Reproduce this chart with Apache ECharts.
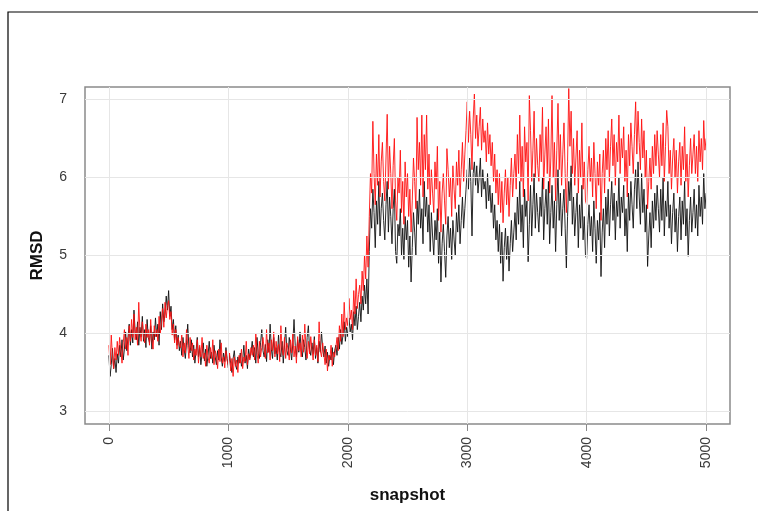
<!DOCTYPE html>
<html>
<head>
<meta charset="utf-8">
<script src="https://cdn.jsdelivr.net/npm/echarts@6/dist/echarts.min.js"></script>
<style>
  html, body { margin: 0; padding: 0; background: #fff; }
  #chart { width: 758px; height: 511px; }
</style>
</head>
<body>
<div id="chart"></div>
<script>
// Snapshot spacing between stored RMSD samples
const snapshotStep = 10;

// RMSD trace drawn in black (one value every 10 snapshots, 0..5000)
const rmsdBlack = [
  3.72,3.45,3.60,3.81,3.55,3.68,3.50,3.74,3.62,3.85,
  3.70,3.92,3.66,3.80,4.02,3.78,3.95,4.12,3.85,4.05,
  3.88,4.30,4.02,3.92,4.15,3.85,4.08,3.96,4.22,3.90,
  4.05,3.82,4.18,3.95,3.88,4.10,3.80,4.02,3.92,4.20,
  3.96,4.12,3.85,4.28,4.05,4.38,4.15,4.25,4.48,4.30,
  4.55,4.22,4.35,4.05,4.18,3.92,4.10,3.85,3.98,3.78,
  3.90,3.72,3.95,3.80,3.68,3.88,4.12,3.82,3.75,3.92,
  3.70,3.85,3.62,3.78,3.95,3.70,3.82,3.60,3.74,3.88,
  3.65,3.80,3.58,3.72,3.90,3.68,3.76,3.62,3.85,3.70,
  3.60,3.78,3.66,3.92,3.70,3.58,3.75,3.64,3.82,3.68,
  3.56,3.72,3.62,3.50,3.68,3.78,3.60,3.54,3.70,3.62,
  3.75,3.58,3.66,3.85,3.62,3.72,3.55,3.80,3.68,3.76,
  3.90,3.70,3.82,3.62,3.95,3.74,3.68,3.88,4.05,3.78,
  3.70,3.86,3.64,3.92,3.76,4.12,3.80,3.68,3.95,3.74,
  3.82,3.66,3.98,3.76,3.70,3.90,3.62,3.84,4.08,3.78,
  3.72,3.95,3.80,3.66,3.88,4.18,3.85,3.70,3.92,3.76,
  4.02,3.78,3.70,3.92,3.82,3.66,3.95,4.10,3.80,3.72,
  3.88,3.74,3.96,3.68,3.82,3.62,3.90,3.76,4.02,3.80,
  3.70,3.84,3.62,3.76,3.58,3.72,3.66,3.82,3.60,3.78,
  3.85,3.72,3.95,3.80,4.05,3.86,3.98,4.15,3.90,4.08,
  3.96,4.20,4.02,4.12,3.92,4.28,4.10,4.35,4.05,4.22,
  4.40,4.15,4.48,4.30,4.62,4.38,4.70,4.25,5.05,5.60,
  5.35,5.85,5.55,5.10,5.70,5.40,5.95,5.25,5.60,5.80,
  5.45,5.20,5.65,5.95,5.30,5.75,5.50,5.15,5.60,5.85,
  5.05,4.90,5.40,5.25,5.60,5.00,5.35,4.95,5.50,5.20,
  5.45,4.85,5.25,4.66,5.10,5.55,5.30,5.00,5.70,5.40,
  5.85,5.35,5.60,5.15,5.95,5.50,5.75,5.30,5.65,5.05,
  5.55,5.25,5.00,5.45,5.20,5.60,4.90,5.30,4.66,5.15,
  5.40,5.05,4.72,5.25,5.50,5.10,5.35,4.95,5.45,5.20,
  5.00,5.55,5.30,5.65,5.15,5.45,5.75,5.35,5.60,5.85,
  6.10,5.85,6.25,5.95,5.25,6.05,6.20,5.90,6.15,5.80,
  6.00,6.25,5.75,6.10,5.85,5.95,5.60,6.05,5.70,5.90,
  5.55,5.80,5.35,5.65,5.20,5.45,5.05,5.40,4.90,5.30,
  4.67,5.10,5.35,4.95,5.25,4.80,5.15,5.45,5.05,5.30,
  5.55,5.20,5.75,5.40,5.95,5.30,5.65,5.10,5.85,5.50,
  5.70,4.92,5.40,5.90,5.25,5.65,6.05,5.35,5.80,5.55,
  5.30,5.75,5.50,6.00,5.20,5.60,5.85,5.40,5.95,5.15,
  5.55,5.90,5.35,5.70,5.05,5.65,6.10,5.45,5.80,5.25,
  5.60,5.85,5.35,4.84,5.50,5.95,5.70,6.15,5.40,5.75,
  5.25,5.55,5.80,5.10,5.65,5.35,5.90,5.20,5.50,5.00,
  4.96,5.40,5.65,5.25,5.50,5.05,5.70,5.35,4.90,5.45,
  5.20,5.55,4.73,5.30,5.60,5.10,5.75,5.40,5.85,5.25,
  5.65,5.95,5.45,5.80,5.20,5.70,5.50,6.00,5.35,5.75,
  5.55,5.90,5.25,5.60,5.05,5.80,5.45,5.95,5.65,5.35,
  5.85,6.10,5.60,6.20,5.75,5.40,6.05,5.55,5.85,5.30,
  5.65,4.86,5.25,5.55,5.10,5.70,5.35,5.80,5.45,5.90,
  5.60,5.30,5.85,5.45,6.00,5.25,5.70,5.50,5.95,5.35,
  5.65,5.15,5.55,5.80,5.30,5.60,5.05,5.50,5.75,5.20,
  5.70,5.40,5.95,5.25,5.60,4.99,5.45,5.75,5.30,5.55,
  5.85,5.35,5.65,5.25,5.90,5.50,5.75,5.40,6.05,5.60,
  5.80
];

// RMSD trace drawn in red (same snapshots)
const rmsdRed = [
  3.85,3.60,3.98,3.70,3.55,3.82,3.66,3.90,3.72,3.95,
  3.78,3.62,3.88,4.05,3.80,3.95,3.72,4.10,3.90,4.18,
  3.95,4.25,3.92,4.08,3.85,4.40,4.02,3.90,4.15,3.98,
  3.88,4.12,3.95,4.05,3.85,4.18,3.92,3.80,4.10,3.96,
  4.05,3.90,4.22,4.00,4.15,4.32,4.08,4.40,4.20,4.35,
  4.42,4.18,4.28,3.98,4.12,3.88,4.05,3.80,3.95,3.85,
  3.82,3.98,3.70,3.88,3.75,4.05,3.85,3.68,3.95,3.78,
  3.88,3.66,3.80,3.72,3.92,3.62,3.85,3.70,3.95,3.68,
  3.75,3.58,3.85,3.70,3.62,3.82,3.68,3.92,3.60,3.78,
  3.72,3.55,3.80,3.64,3.88,3.62,3.70,3.56,3.78,3.65,
  3.60,3.75,3.52,3.68,3.45,3.70,3.58,3.66,3.50,3.72,
  3.62,3.80,3.55,3.70,3.64,3.90,3.60,3.74,3.66,3.82,
  3.72,3.85,3.66,4.00,3.76,3.62,3.90,3.70,3.82,3.95,
  3.80,3.68,4.05,3.75,3.88,3.66,3.92,3.78,4.02,3.70,
  3.90,3.74,3.86,3.64,4.10,3.80,3.72,3.95,3.68,3.88,
  3.80,3.66,3.92,3.75,4.00,3.70,3.84,3.62,3.96,3.78,
  3.88,3.70,3.98,3.76,4.12,3.82,3.68,3.90,3.74,3.96,
  3.80,3.66,3.92,3.72,3.85,3.64,4.15,3.78,3.70,3.88,
  3.74,3.60,3.80,3.52,3.72,3.66,3.85,3.58,3.76,3.70,
  3.82,3.95,3.78,4.10,3.90,4.25,3.96,4.40,4.05,4.20,
  4.10,4.45,4.18,4.30,4.05,4.55,4.25,4.70,4.32,4.50,
  4.62,4.38,4.80,4.55,5.00,4.70,5.25,4.85,5.50,6.05,
  5.80,6.72,6.05,5.65,6.30,5.90,6.55,5.75,6.20,6.45,
  5.95,5.70,6.25,6.81,5.85,6.40,6.05,5.60,6.15,6.50,
  5.70,5.45,6.00,5.80,6.35,5.55,5.95,5.40,6.20,5.75,
  6.05,5.50,5.85,5.30,5.70,6.25,5.95,5.60,6.77,6.10,
  6.45,5.90,6.80,5.75,6.55,6.10,6.80,5.85,6.30,5.65,
  6.10,5.80,5.55,6.20,5.85,6.40,5.45,5.95,5.30,5.80,
  6.05,5.70,5.40,6.37,6.10,5.75,6.00,5.50,6.15,5.85,
  5.60,6.20,5.90,6.35,5.75,6.10,6.45,5.95,6.30,6.60,
  6.97,6.45,6.85,6.55,6.10,6.75,7.07,6.50,6.80,6.40,
  6.65,6.90,6.35,6.75,6.45,6.60,6.20,6.70,6.30,6.55,
  6.15,6.45,5.95,6.30,5.80,6.10,5.65,6.05,5.55,5.95,
  5.42,5.80,6.10,5.65,6.00,5.50,5.90,6.25,5.75,6.05,
  6.30,5.85,6.55,6.05,6.80,5.95,6.40,5.75,6.65,6.20,
  6.45,5.70,7.05,6.60,5.95,6.35,6.85,6.00,6.50,6.15,
  5.95,6.55,6.20,6.90,5.85,6.30,6.65,6.05,6.75,5.80,
  6.25,7.05,6.00,6.45,5.70,6.35,6.95,6.10,6.55,5.90,
  6.30,6.70,6.05,5.55,6.20,7.14,6.40,6.85,6.05,6.50,
  5.90,6.25,6.60,5.80,6.35,6.00,6.70,5.85,6.20,5.70,
  5.65,6.10,6.40,5.95,6.25,5.75,6.45,6.05,5.60,6.20,
  5.90,6.30,5.45,6.05,6.35,5.80,6.50,6.10,6.60,5.95,
  6.40,6.75,6.15,6.55,5.90,6.45,6.20,6.80,6.05,6.50,
  6.25,6.65,5.95,6.35,5.75,6.55,6.15,6.70,6.40,6.05,
  6.55,6.97,6.30,6.85,6.45,6.10,6.75,6.25,6.60,6.00,
  6.35,5.60,5.95,6.25,5.85,6.40,6.05,6.55,6.15,6.60,
  6.30,6.00,6.55,6.15,6.70,5.95,6.40,6.86,6.65,6.05,
  6.35,5.85,6.25,6.50,6.00,6.35,5.80,6.20,6.45,5.90,
  6.40,6.10,6.65,5.95,6.30,5.75,6.15,6.50,6.05,6.30,
  6.55,6.05,6.40,5.95,6.60,6.20,6.50,6.10,6.73,6.35,
  6.50
];

// Axis tick positions
const xTickValues = [0, 1000, 2000, 3000, 4000, 5000];
const yTickValues = [3, 4, 5, 6, 7];

const toPoints = arr => arr.map((v, i) => [i * snapshotStep, v]);

const fontFamily = '"Liberation Sans", Arial, sans-serif';
const gridLineColor = '#e6e6e6';
const frameColor = '#8a8a8a';

const chart = echarts.init(document.getElementById('chart'), null, { renderer: 'canvas' });

chart.setOption({
  animation: false,
  backgroundColor: '#ffffff',
  grid: {
    left: 85, right: 28, top: 87, bottom: 87,
    outerBoundsMode: 'none',
    containLabel: false,
    show: true,
    borderColor: frameColor,
    borderWidth: 1.5,
    backgroundColor: 'transparent'
  },
  xAxis: {
    type: 'value',
    min: -200,
    max: 5200,
    name: 'snapshot',
    nameLocation: 'middle',
    nameGap: 63,
    nameTextStyle: { fontFamily, fontSize: 17, fontWeight: 'bold', color: '#111' },
    axisLine: { show: false },
    axisTick: {
      show: true, length: 7, customValues: xTickValues,
      lineStyle: { color: frameColor, width: 1 }
    },
    axisLabel: {
      customValues: xTickValues,
      formatter: v => String(v),
      rotate: 90,
      margin: 13,
      fontFamily, fontSize: 14, color: '#3a3a3a'
    },
    splitLine: { show: false }
  },
  yAxis: {
    type: 'value',
    min: 2.84,
    max: 7.16,
    name: 'RMSD',
    nameLocation: 'middle',
    nameRotate: 90,
    nameGap: 39,
    nameTextStyle: { fontFamily, fontSize: 17, fontWeight: 'bold', color: '#111' },
    axisLine: { show: false },
    axisTick: {
      show: true, length: 7, customValues: yTickValues,
      lineStyle: { color: frameColor, width: 1 }
    },
    axisLabel: {
      customValues: yTickValues,
      formatter: v => String(v),
      margin: 18,
      fontFamily, fontSize: 14, color: '#3a3a3a'
    },
    splitLine: { show: false }
  },
  graphic: [
    {
      type: 'polyline',
      silent: true,
      shape: { points: [[8, 511], [8, 12], [758, 12]] },
      style: { stroke: '#000', lineWidth: 1.2, fill: null }
    }
  ],
  series: [
    {
      // background reference lines at the tick positions
      type: 'line',
      data: [],
      z: 1,
      silent: true,
      markLine: {
        silent: true,
        symbol: 'none',
        label: { show: false },
        lineStyle: { color: gridLineColor, width: 1, type: 'solid' },
        emphasis: { disabled: true },
        data: xTickValues.map(v => ({ xAxis: v }))
          .concat(yTickValues.map(v => ({ yAxis: v })))
      }
    },
    {
      name: 'black',
      type: 'line',
      data: toPoints(rmsdBlack),
      z: 2,
      showSymbol: false,
      symbol: 'none',
      lineStyle: { color: '#111111', width: 0.9 },
      emphasis: { disabled: true }
    },
    {
      name: 'red',
      type: 'line',
      data: toPoints(rmsdRed),
      z: 3,
      showSymbol: false,
      symbol: 'none',
      lineStyle: { color: '#ff1010', width: 0.9 },
      emphasis: { disabled: true }
    }
  ]
});
</script>
</body>
</html>
